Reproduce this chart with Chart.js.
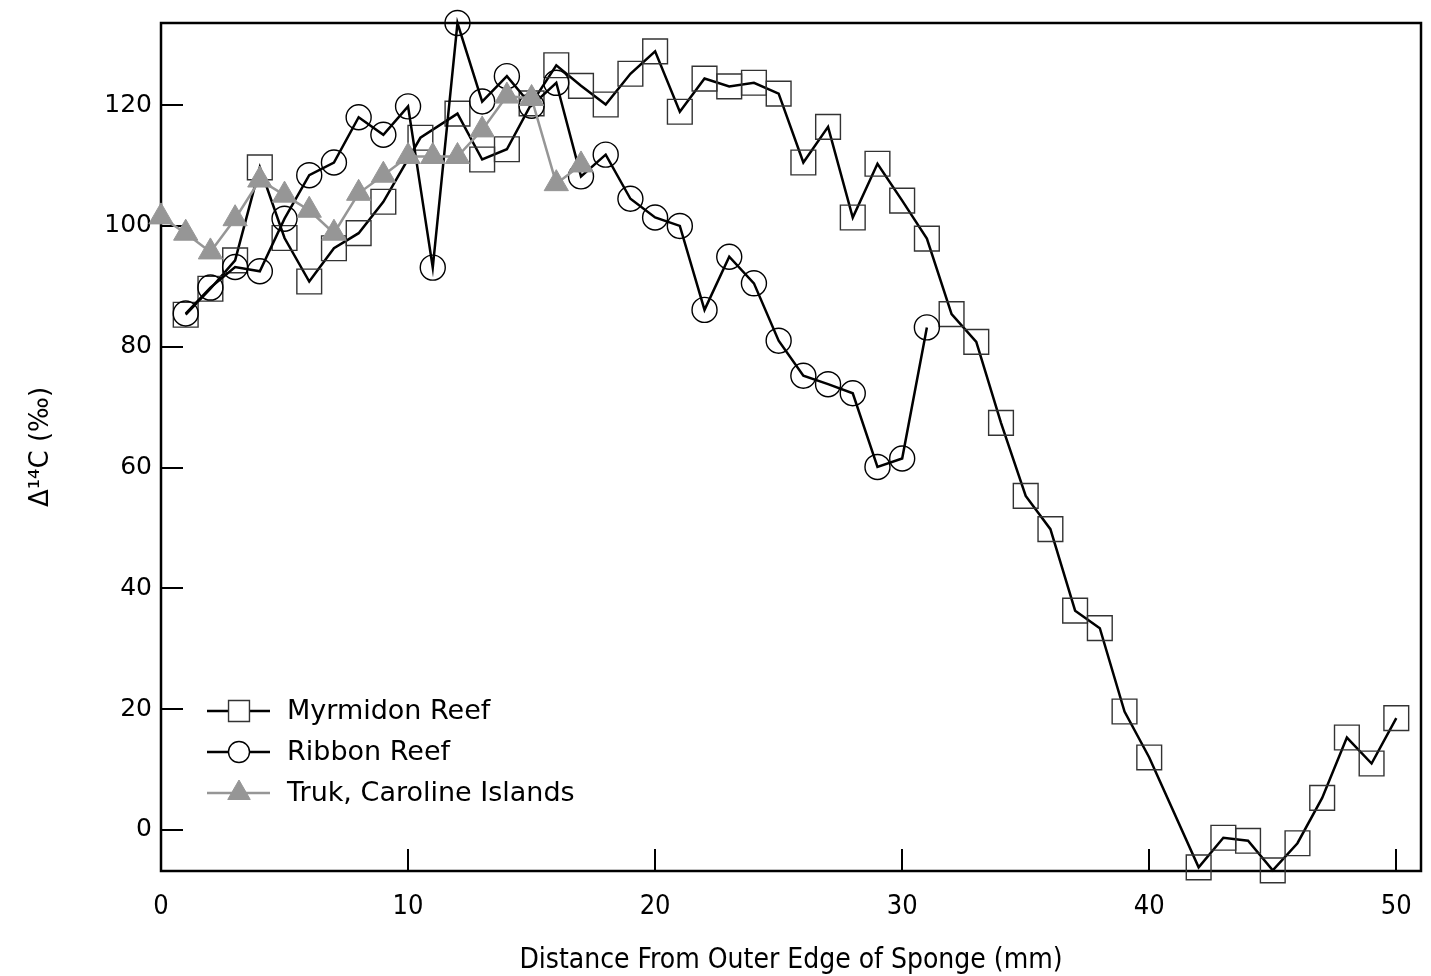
<!DOCTYPE html>
<html>
<head>
<meta charset="utf-8">
<script src="https://cdn.jsdelivr.net/npm/chart.js@4.4.1/dist/chart.umd.min.js"></script>
<style>
  html, body { margin: 0; padding: 0; background: #fff; overflow: hidden; }
  #wrap { width: 1431px; height: 976px; }
  canvas { display: block; }
</style>
</head>
<body>
<div id="wrap"><canvas id="chart" width="1431" height="976"></canvas></div>
<script>
// distance from outer edge (mm) and delta 14C (permil)
const myrmidonX = [1, 2, 3, 4, 5, 6, 7, 8, 9, 10.5, 12, 13, 14, 15, 16, 17, 18, 19, 20, 21, 22, 23, 24, 25,
  26, 27, 28, 29, 30, 31, 32, 33, 34, 35, 36, 37, 38, 39, 40, 42, 43, 44, 45, 46, 47, 48, 49, 50];
const myrmidonY = [85.3, 89.6, 94.3, 109.7, 98.0, 90.8, 96.3, 98.8, 104.0, 114.6, 118.6, 111.0, 112.7, 120.3,
  126.6, 123.2, 120.1, 125.2, 128.9, 118.9, 124.4, 123.1, 123.7, 121.9, 110.5, 116.4, 101.4, 110.3, 104.2,
  97.9, 85.4, 80.8, 67.4, 55.3, 49.8, 36.3, 33.4, 19.6, 12.0, -6.2, -1.3, -1.8, -6.7, -2.2, 5.3, 15.3, 11.0, 18.5];

const ribbonX = [1, 2, 3, 4, 5, 6, 7, 8, 9, 10, 11, 12, 13, 14, 15, 16, 17, 18, 19, 20, 21, 22, 23, 24, 25,
  26, 27, 28, 29, 30, 31];
const ribbonY = [85.5, 89.8, 93.2, 92.5, 101.2, 108.4, 110.5, 118.0, 115.1, 119.8, 93.1, 133.6, 120.6, 124.8,
  119.9, 123.7, 108.2, 111.8, 104.5, 101.4, 100.0, 86.1, 94.9, 90.5, 81.0, 75.2, 73.8, 72.3, 60.1, 61.5, 83.2];

const trukX = [0, 1, 2, 3, 4, 5, 6, 7, 8, 9, 10, 11, 12, 13, 14, 15, 16, 17];
const trukY = [101.5, 98.8, 95.7, 101.2, 107.6, 105.1, 102.6, 98.8, 105.4, 108.4, 111.5, 111.5, 111.5, 115.9,
  121.5, 121.1, 107.0, 110.1];

const xTicks = [0, 10, 20, 30, 40, 50];
const yTicks = [0, 20, 40, 60, 80, 100, 120];

const seriesNames = ['Myrmidon Reef', 'Ribbon Reef', 'Truk, Caroline Islands'];

const toPoints = (xs, ys) => xs.map((x, i) => ({ x: x, y: ys[i] }));

const grey = 'rgb(150,150,150)';

// box round the plot and inward ticks
const frameTicks = {
  id: 'frameTicks',
  beforeDatasetsDraw(chart) {
    const { ctx, chartArea: a, scales } = chart;
    ctx.save();
    ctx.strokeStyle = '#000';
    ctx.lineWidth = 2;
    yTicks.forEach((v) => {
      const py = Math.round(scales.y.getPixelForValue(v));
      ctx.beginPath();
      ctx.moveTo(a.left, py);
      ctx.lineTo(a.left + 22, py);
      ctx.stroke();
    });
    xTicks.forEach((v) => {
      const px = Math.round(scales.x.getPixelForValue(v));
      ctx.beginPath();
      ctx.moveTo(px, a.bottom);
      ctx.lineTo(px, a.bottom - 22);
      ctx.stroke();
    });
    ctx.lineWidth = 2.5;
    ctx.strokeRect(a.left, a.top, a.right - a.left, a.bottom - a.top);
    ctx.restore();
  }
};

// legend drawn inside the plot, line + marker like the original
const innerLegend = {
  id: 'innerLegend',
  afterDraw(chart) {
    const { ctx } = chart;
    const rows = [711, 752, 793];
    ctx.save();
    chart.data.datasets.forEach((ds, i) => {
      const y = rows[i];
      ctx.strokeStyle = ds.borderColor;
      ctx.lineWidth = ds.borderWidth;
      ctx.beginPath();
      ctx.moveTo(207, y);
      ctx.lineTo(270, y);
      ctx.stroke();
      ctx.fillStyle = ds.pointBackgroundColor === 'rgba(0,0,0,0)' ? '#fff' : ds.pointBackgroundColor;
      ctx.strokeStyle = ds.pointBorderColor;
      ctx.lineWidth = ds.pointBorderWidth;
      const r = ds.pointStyle === 'rect' ? 14.8 : (ds.pointStyle === 'circle' ? 10.5 : 13);
      Chart.helpers.drawPoint(ctx, { pointStyle: ds.pointStyle, rotation: 0, radius: r, borderWidth: ds.pointBorderWidth }, 239, y);
      ctx.fillStyle = '#000';
      ctx.font = '27px "DejaVu Sans", sans-serif';
      ctx.textBaseline = 'middle';
      ctx.textAlign = 'left';
      ctx.fillText(ds.label, 287, y + 1);
    });
    ctx.restore();
  }
};

new Chart(document.getElementById('chart'), {
  type: 'line',
  data: {
    datasets: [
      {
        label: seriesNames[0],
        data: toPoints(myrmidonX, myrmidonY),
        borderColor: '#000',
        borderWidth: 2.5,
        pointStyle: 'rect',
        pointRadius: 17.5,
        pointBorderColor: '#333',
        pointBorderWidth: 1.4,
        pointBackgroundColor: 'rgba(0,0,0,0)',
        tension: 0,
        clip: false,
        order: 2
      },
      {
        label: seriesNames[1],
        data: toPoints(ribbonX, ribbonY),
        borderColor: '#000',
        borderWidth: 2.5,
        pointStyle: 'circle',
        pointRadius: 12.5,
        pointBorderColor: '#000',
        pointBorderWidth: 1.4,
        pointBackgroundColor: 'rgba(0,0,0,0)',
        tension: 0,
        clip: false,
        order: 1
      },
      {
        label: seriesNames[2],
        data: toPoints(trukX, trukY),
        borderColor: grey,
        borderWidth: 2.5,
        pointStyle: 'triangle',
        pointRadius: 14,
        pointBorderColor: grey,
        pointBorderWidth: 1,
        pointBackgroundColor: grey,
        tension: 0,
        clip: false,
        order: 0
      }
    ]
  },
  options: {
    responsive: false,
    animation: false,
    events: [],
    layout: { autoPadding: false, padding: { top: 23, right: 10, left: 0, bottom: 0 } },
    plugins: { legend: { display: false }, tooltip: { enabled: false } },
    scales: {
      x: {
        type: 'linear',
        min: 0,
        max: 51,
        grid: { display: false, drawTicks: false },
        border: { display: false },
        afterBuildTicks: (s) => { s.ticks = xTicks.map((v) => ({ value: v })); },
        afterFit: (s) => { s.height = 105; s.paddingLeft = 0; s.paddingRight = 0; },
        ticks: {
          color: '#000',
          padding: 20,
          maxRotation: 0,
          font: { family: '"DejaVu Sans Condensed", "Liberation Sans Narrow", "DejaVu Sans", sans-serif', size: 27 }
        },
        title: {
          display: true,
          text: 'Distance From Outer Edge of Sponge (mm)',
          color: '#000',
          padding: { top: 0, bottom: -2 },
          font: { family: '"DejaVu Sans Condensed", "Liberation Sans Narrow", "DejaVu Sans", sans-serif', size: 28 }
        }
      },
      y: {
        type: 'linear',
        min: -6.8,
        max: 133.6,
        grid: { display: false, drawTicks: false },
        border: { display: false },
        afterBuildTicks: (s) => { s.ticks = yTicks.map((v) => ({ value: v })); },
        afterFit: (s) => { s.width = 161; s.paddingTop = 0; s.paddingBottom = 0; },
        ticks: {
          color: '#000',
          padding: 9,
          font: { family: '"DejaVu Sans", sans-serif', size: 25 }
        },
        title: {
          display: true,
          text: 'Δ¹⁴C (‰)',
          color: '#000',
          padding: { top: 26, bottom: 0 },
          font: { family: '"DejaVu Sans", sans-serif', size: 26 }
        }
      }
    }
  },
  plugins: [frameTicks, innerLegend]
});
</script>
</body>
</html>
